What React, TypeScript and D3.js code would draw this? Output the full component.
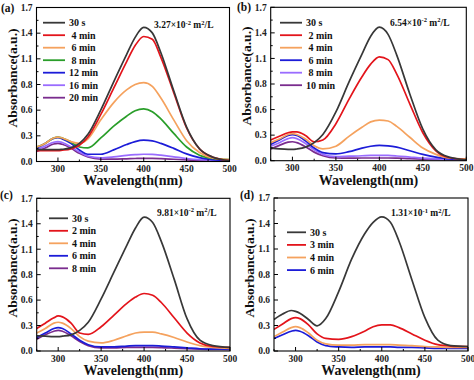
import React from 'react';
import * as d3 from 'd3';

// ---------- DATA ----------
const WL = [275, 285, 295, 300, 305, 315, 325, 335, 350, 365, 380, 390, 400, 410, 420, 435, 450, 465, 480, 500];

const Y_TICK_VALUES = [0, 1, 2, 3, 4, 5, 6].map((i) => (i * 1.7) / 6);
const Y_TICK_LABELS = ['0.0', '0.3', '0.6', '0.8', '1.1', '1.4', '1.7'];
const X_TICKS = [300, 350, 400, 450, 500];
const X_MINOR = [275, 325, 375, 425, 475];

// Panel (a) 3.27e-2 m2/L
const A_LABELS = ['30 s', ' 4 min', ' 6 min', ' 8 min', '12 min', '16 min', '20 min'];
const A_30S = [0.13, 0.13, 0.13, 0.13, 0.135, 0.15, 0.2, 0.3, 0.57, 0.88, 1.18, 1.37, 1.48, 1.42, 1.2, 0.78, 0.38, 0.14, 0.05, 0.01];
const A_4 = [0.12, 0.12, 0.12, 0.12, 0.125, 0.14, 0.18, 0.27, 0.52, 0.81, 1.1, 1.28, 1.38, 1.35, 1.15, 0.76, 0.37, 0.14, 0.05, 0.01];
const A_6 = [0.16, 0.2, 0.26, 0.27, 0.26, 0.22, 0.2, 0.25, 0.46, 0.65, 0.79, 0.85, 0.87, 0.83, 0.7, 0.46, 0.23, 0.1, 0.04, 0.02];
const A_8 = [0.16, 0.2, 0.26, 0.27, 0.26, 0.216, 0.16, 0.15, 0.26, 0.39, 0.5, 0.56, 0.58, 0.55, 0.47, 0.31, 0.16, 0.07, 0.035, 0.02];
const A_12 = [0.15, 0.2, 0.255, 0.264, 0.25, 0.2, 0.127, 0.08, 0.08, 0.128, 0.187, 0.22, 0.235, 0.228, 0.2, 0.145, 0.084, 0.042, 0.021, 0.01];
const A_16 = [0.13, 0.17, 0.213, 0.22, 0.21, 0.163, 0.104, 0.059, 0.04, 0.05, 0.067, 0.075, 0.08, 0.078, 0.07, 0.052, 0.033, 0.02, 0.014, 0.01];
const A_20 = [0.11, 0.15, 0.193, 0.2, 0.19, 0.148, 0.09, 0.05, 0.027, 0.026, 0.03, 0.033, 0.035, 0.034, 0.031, 0.025, 0.018, 0.014, 0.011, 0.01];

// Panel (b) 6.54e-2 m2/L
const B_LABELS = ['30 s', ' 2 min', ' 4 min', ' 6 min', ' 8 min', '10 min'];
const B_30S = [0.14, 0.13, 0.125, 0.125, 0.13, 0.15, 0.2, 0.29, 0.54, 0.87, 1.18, 1.38, 1.48, 1.4, 1.17, 0.74, 0.35, 0.12, 0.04, 0.01];
const B_2 = [0.23, 0.27, 0.31, 0.32, 0.32, 0.28, 0.21, 0.23, 0.41, 0.68, 0.93, 1.07, 1.15, 1.12, 0.96, 0.63, 0.31, 0.11, 0.035, 0.01];
const B_4 = [0.2, 0.24, 0.29, 0.3, 0.29, 0.24, 0.165, 0.13, 0.16, 0.27, 0.37, 0.43, 0.45, 0.44, 0.38, 0.26, 0.14, 0.07, 0.03, 0.02];
const B_6 = [0.18, 0.23, 0.28, 0.29, 0.28, 0.22, 0.14, 0.09, 0.075, 0.1, 0.14, 0.16, 0.17, 0.165, 0.15, 0.11, 0.07, 0.04, 0.02, 0.015];
const B_8 = [0.16, 0.2, 0.245, 0.255, 0.245, 0.19, 0.12, 0.07, 0.045, 0.05, 0.055, 0.06, 0.06, 0.058, 0.052, 0.04, 0.028, 0.02, 0.015, 0.01];
const B_10 = [0.13, 0.17, 0.205, 0.21, 0.2, 0.155, 0.095, 0.055, 0.03, 0.028, 0.03, 0.03, 0.03, 0.03, 0.028, 0.022, 0.018, 0.014, 0.012, 0.01];

// Panel (c) 9.81e-2 m2/L
const C_LABELS = ['30 s', '2 min', '4 min', '6 min', '8 min'];
const C_30S = [0.17, 0.165, 0.16, 0.16, 0.165, 0.18, 0.23, 0.32, 0.58, 0.88, 1.18, 1.37, 1.49, 1.43, 1.22, 0.8, 0.36, 0.12, 0.06, 0.04];
const C_2 = [0.25, 0.31, 0.37, 0.39, 0.38, 0.31, 0.2, 0.185, 0.27, 0.4, 0.53, 0.6, 0.64, 0.62, 0.54, 0.37, 0.2, 0.09, 0.05, 0.04];
const C_4 = [0.2, 0.25, 0.31, 0.32, 0.31, 0.25, 0.16, 0.11, 0.09, 0.12, 0.17, 0.2, 0.21, 0.21, 0.19, 0.15, 0.1, 0.06, 0.04, 0.03];
const C_6 = [0.15, 0.2, 0.25, 0.26, 0.25, 0.19, 0.12, 0.07, 0.045, 0.045, 0.055, 0.06, 0.06, 0.06, 0.055, 0.045, 0.035, 0.025, 0.02, 0.02];
const C_8 = [0.13, 0.18, 0.22, 0.23, 0.22, 0.17, 0.105, 0.06, 0.035, 0.035, 0.04, 0.04, 0.04, 0.04, 0.038, 0.032, 0.025, 0.02, 0.018, 0.015];

// Panel (d) 1.31e-1 m2/L
const D_LABELS = ['30 s', '3 min', '4 min', '6 min'];
const D_30S = [0.35, 0.41, 0.45, 0.44, 0.42, 0.35, 0.28, 0.36, 0.66, 1.02, 1.3, 1.43, 1.49, 1.43, 1.22, 0.79, 0.37, 0.12, 0.06, 0.05];
const D_3 = [0.24, 0.3, 0.36, 0.37, 0.36, 0.29, 0.19, 0.14, 0.13, 0.16, 0.22, 0.27, 0.29, 0.29, 0.26, 0.19, 0.12, 0.07, 0.055, 0.05];
const D_4 = [0.16, 0.21, 0.26, 0.27, 0.26, 0.2, 0.12, 0.08, 0.065, 0.065, 0.07, 0.07, 0.07, 0.07, 0.065, 0.06, 0.05, 0.045, 0.04, 0.04];
const D_6 = [0.14, 0.18, 0.22, 0.23, 0.22, 0.17, 0.1, 0.06, 0.045, 0.04, 0.045, 0.045, 0.045, 0.045, 0.04, 0.04, 0.035, 0.03, 0.03, 0.03];

// ---------- STYLE ----------
const GRAY = '#383838';
const RED = '#e3141b';
const ORANGE = '#f5a25e';
const GREEN = '#2a9e2a';
const BLUE = '#1c1cd8';
const LILAC = '#9a6cff';
const PURPLE = '#7a2c8e';
const FONT = '"Liberation Serif", "Times New Roman", serif';

type Series = { label: string; values: number[]; color: string };

type PanelProps = {
  id: string;
  letter: string;
  x0: number; x1: number; y0: number; y1: number;
  series: Series[];
  legX: number; legLineW: number; legTextX: number; legY0: number; legDy: number;
  annoX: number; annoY: number; annoMant: string; annoExp: string;
  ylabX: number; ylabY: number; xlabY: number;
  letterX: number; letterY: number;
};

function Panel(p: PanelProps) {
  const x = d3.scaleLinear().domain([275, 500]).range([p.x0, p.x1]);
  const y = d3.scaleLinear().domain([0, 1.7]).range([p.y1, p.y0]);
  const line = d3
    .line<number>()
    .x((_, i) => x(WL[i]))
    .y((v) => y(v))
    .curve(d3.curveMonotoneX);
  const clipId = 'clip-' + p.id;
  const yMinor = Y_TICK_VALUES.slice(0, -1).map((v) => v + 1.7 / 12);
  return (
    <g fontFamily={FONT} fontWeight="bold">
      <defs>
        <clipPath id={clipId}>
          <rect x={p.x0} y={p.y0} width={p.x1 - p.x0} height={p.y1 - p.y0} />
        </clipPath>
      </defs>
      <g clipPath={`url(#${clipId})`}>
        {p.series
          .slice()
          .reverse()
          .map((s) => (
            <path key={s.label} d={line(s.values) || ''} fill="none" stroke={s.color} strokeWidth={1.7} />
          ))}
      </g>
      <rect x={p.x0} y={p.y0} width={p.x1 - p.x0} height={p.y1 - p.y0} fill="none" stroke="#000" strokeWidth={1.1} />
      {/* y ticks */}
      {Y_TICK_VALUES.map((v, i) => (
        <g key={'yt' + i}>
          <line x1={p.x0} x2={p.x0 + 4} y1={y(v)} y2={y(v)} stroke="#000" strokeWidth={1} />
          <text x={p.x0 - 4} y={y(v) + 3.3} fontSize={9.5} textAnchor="end" fill="#222">
            {Y_TICK_LABELS[i]}
          </text>
        </g>
      ))}
      {yMinor.map((v, i) => (
        <line key={'ym' + i} x1={p.x0} x2={p.x0 + 2} y1={y(v)} y2={y(v)} stroke="#000" strokeWidth={1} />
      ))}
      {/* x ticks */}
      {X_TICKS.map((t) => (
        <g key={'xt' + t}>
          <line x1={x(t)} x2={x(t)} y1={p.y1} y2={p.y1 - 4} stroke="#000" strokeWidth={1} />
          <text x={x(t)} y={p.y1 + 10.5} fontSize={9.5} textAnchor="middle" fill="#222">
            {t}
          </text>
        </g>
      ))}
      {X_MINOR.map((t) => (
        <line key={'xm' + t} x1={x(t)} x2={x(t)} y1={p.y1} y2={p.y1 - 2} stroke="#000" strokeWidth={1} />
      ))}
      {/* axis labels */}
      <text x={(p.x0 + p.x1) / 2} y={p.xlabY} fontSize={14} textAnchor="middle" fill="#111">
        Wavelength(nm)
      </text>
      <text
        transform={`translate(${p.ylabX},${p.ylabY}) rotate(-90)`}
        fontSize={13.5}
        textAnchor="middle"
        fill="#111"
      >
        Absorbance(a.u.)
      </text>
      <text x={p.letterX} y={p.letterY} fontSize={11.5} fill="#111">
        {p.letter}
      </text>
      {/* legend */}
      {p.series.map((s, i) => {
        const ly = p.legY0 + i * p.legDy;
        return (
          <g key={'lg' + i}>
            <line x1={p.legX} x2={p.legX + p.legLineW} y1={ly} y2={ly} stroke={s.color} strokeWidth={1.8} />
            <text x={p.legTextX} y={ly + 3.4} fontSize={10} fill="#111" xmlSpace="preserve" style={{ whiteSpace: 'pre' }}>
              {s.label}
            </text>
          </g>
        );
      })}
      {/* annotation */}
      <text x={p.annoX} y={p.annoY} fontSize={9.5} fill="#111">
        {p.annoMant}
        <tspan fontSize={6.5} dy={-3.5}>{p.annoExp}</tspan>
        <tspan dy={3.5}> m</tspan>
        <tspan fontSize={6.5} dy={-3.5}>2</tspan>
        <tspan dy={3.5}>/L</tspan>
      </text>
    </g>
  );
}

export default function App() {
  const panelA: Series[] = [A_30S, A_4, A_6, A_8, A_12, A_16, A_20].map((v, i) => ({
    label: A_LABELS[i],
    values: v,
    color: [GRAY, RED, ORANGE, GREEN, BLUE, LILAC, PURPLE][i],
  }));
  const panelB: Series[] = [B_30S, B_2, B_4, B_6, B_8, B_10].map((v, i) => ({
    label: B_LABELS[i],
    values: v,
    color: [GRAY, RED, ORANGE, BLUE, LILAC, PURPLE][i],
  }));
  const panelC: Series[] = [C_30S, C_2, C_4, C_6, C_8].map((v, i) => ({
    label: C_LABELS[i],
    values: v,
    color: [GRAY, RED, ORANGE, BLUE, PURPLE][i],
  }));
  const panelD: Series[] = [D_30S, D_3, D_4, D_6].map((v, i) => ({
    label: D_LABELS[i],
    values: v,
    color: [GRAY, RED, ORANGE, BLUE][i],
  }));
  return (
    <svg
      width={474}
      height={380}
      viewBox="0 0 474 380"
      style={{ position: 'absolute', left: 0, top: 0, background: '#fff' }}
    >
      <rect x={0} y={0} width={474} height={380} fill="#fff" />
      <Panel
        id="a" letter="(a)" x0={36.5} x1={229.5} y0={7.5} y1={161.5} series={panelA}
        legX={43} legLineW={22} legTextX={69} legY0={22.7} legDy={12.5}
        annoX={154} annoY={28} annoMant="3.27×10" annoExp="-2"
        ylabX={17} ylabY={78} xlabY={185} letterX={1} letterY={12}
      />
      <Panel
        id="b" letter="(b)" x0={270.7} x1={466.3} y0={7.3} y1={160.7} series={panelB}
        legX={280} legLineW={22} legTextX={306} legY0={22.7} legDy={12.5}
        annoX={390} annoY={25.5} annoMant="6.54×10" annoExp="-2"
        ylabX={251} ylabY={76} xlabY={185} letterX={237} letterY={11}
      />
      <Panel
        id="c" letter="(c)" x0={36.7} x1={230} y0={198.3} y1={351} series={panelC}
        legX={49} legLineW={19} legTextX={72} legY0={218.3} legDy={12.5}
        annoX={157} annoY={215.5} annoMant="9.81×10" annoExp="-2"
        ylabX={17} ylabY={268} xlabY={375} letterX={0} letterY={199}
      />
      <Panel
        id="d" letter="(d)" x0={274} x1={468} y0={198} y1={351} series={panelD}
        legX={287} legLineW={19} legTextX={310} legY0={232.3} legDy={12.6}
        annoX={391} annoY={216} annoMant="1.31×10" annoExp="-1"
        ylabX={254} ylabY={268} xlabY={375} letterX={240} letterY={199}
      />
    </svg>
  );
}
